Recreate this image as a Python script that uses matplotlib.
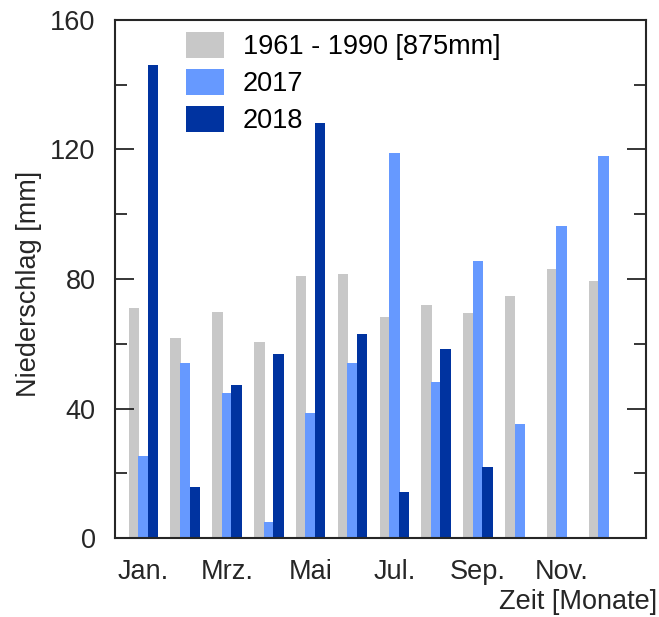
import matplotlib
matplotlib.use("Agg")
import matplotlib.pyplot as plt
from matplotlib.ticker import MultipleLocator
import numpy as np

plt.rcParams['font.family'] = ['Liberation Sans', 'DejaVu Sans']

months = np.arange(1, 13)
tick_months = [1, 3, 5, 7, 9, 11]
tick_labels = ["Jan.", "Mrz.", "Mai", "Jul.", "Sep.", "Nov."]

mean_1961_1990 = [71, 61.8, 69.8, 60.5, 81, 81.5, 68.3, 72, 69.5, 74.7, 83, 79.4]
rain_2017 = [25.3, 54, 44.8, 5, 38.6, 54, 118.9, 48.2, 85.6, 35.2, 96.4, 118]
rain_2018 = [146, 15.8, 47.3, 56.8, 128.2, 63, 14.2, 58.4, 22, np.nan, np.nan, np.nan]

series_labels = ["1961 - 1990 [875mm]", "2017", "2018"]
colors = ["#c8c8c8", "#6699ff", "#0033a0"]

FS = 19.5
TXT = '#262626'

fig = plt.figure(figsize=(6.59, 6.17), dpi=100)
ax = fig.add_axes([0.1745, 0.128, 0.8058, 0.8396])

width = 0.25
offset = 0.228
for i, (vals, lab, col) in enumerate(zip([mean_1961_1990, rain_2017, rain_2018],
                                        series_labels, colors)):
    ax.bar(months + (i - 1) * offset, vals, width=width, color=col, label=lab,
           linewidth=0)

ax.set_xlim(0.32, 13.02)
ax.set_ylim(0, 160)
ax.set_xticks(tick_months)
ax.set_xticklabels(tick_labels)
ax.yaxis.set_major_locator(MultipleLocator(40))
ax.yaxis.set_minor_locator(MultipleLocator(20))

ax.tick_params(axis='x', length=0, labelsize=FS, pad=15, colors=TXT)
ax.tick_params(axis='y', which='major', direction='in', length=14, width=1.3,
               left=True, right=True, labelsize=FS, pad=14, colors=TXT)
ax.tick_params(axis='y', which='minor', direction='in', length=8.5, width=1.3,
               left=True, right=True, colors=TXT)
for sp in ax.spines.values():
    sp.set_linewidth(1.5)
    sp.set_color(TXT)

ax.set_ylabel("Niederschlag [mm]", fontsize=FS, color=TXT)
ax.yaxis.set_label_coords(-0.137, 0.49)
fig.text(0.997, 0.003, "Zeit [Monate]", ha='right', va='bottom', fontsize=FS,
         color=TXT)

ax.legend(loc='upper left', bbox_to_anchor=(0.134, 0.977), frameon=False,
          fontsize=FS, borderpad=0, borderaxespad=0, handlelength=1.4,
          handleheight=1.1, handletextpad=0.7, labelspacing=0.33)

fig.savefig("out.png", dpi=100)
